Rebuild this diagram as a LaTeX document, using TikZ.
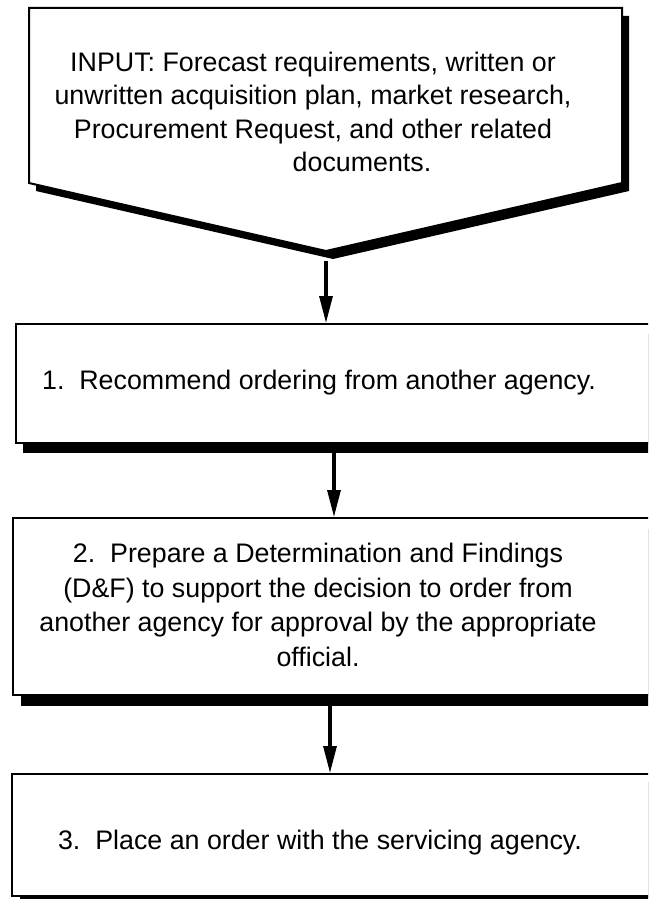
\documentclass[tikz,border=0pt]{standalone}
\usepackage{fontspec}
\setmainfont{Liberation Sans}
\usetikzlibrary{arrows.meta,shadows}
\begin{document}
\begin{tikzpicture}[x=1pt,y=-1pt,
  boxline/.style={draw=black,line width=2pt,fill=white},
  stepbox/.style={boxline,rectangle,inner sep=0pt,anchor=north west},
  txt/.style={font=\fontsize{26.8}{34}\selectfont,align=center,inner sep=0pt,text=black},
  flow/.style={line width=3.1pt,-{Triangle[length=27pt,width=13pt]}}]
\path[use as bounding box, clip] (0,0) rectangle (648,899);
\fill[white] (0,0) rectangle (648,899);
% input shape
\fill[black,shift={(7,8)}] (29,8) -- (622,8) -- (622,183) -- (326,251) -- (29,183) -- cycle;
\draw[boxline,line join=miter] (29,8) -- (622,8) -- (622,183) -- (326,251) -- (29,183) -- cycle;
\node[txt,font=\fontsize{26.8}{33.5}\selectfont] (inp) at (313,112) {INPUT: Forecast requirements, written or\\unwritten acquisition plan, market research,\\Procurement Request, and other related\\\hspace*{98pt}documents.};
\coordinate (tip) at (326,261);
% boxes
\node[stepbox,minimum width=700pt,minimum height=119pt,
  drop shadow={shadow xshift=7pt,shadow yshift=-10pt,fill=black,opacity=1}] (b1) at (15,323) {};
\node[stepbox,minimum width=700pt,minimum height=177pt,
  drop shadow={shadow xshift=8pt,shadow yshift=-11pt,fill=black,opacity=1}] (b2) at (12,517) {};
\node[stepbox,minimum width=700pt,minimum height=122pt,
  drop shadow={shadow xshift=8pt,shadow yshift=-8pt,fill=black,opacity=1}] (b3) at (11,773) {};
\node[txt] (t1) at (319,383) {1.~~Recommend ordering from another agency.};
\node[txt,font=\fontsize{26.8}{34.5}\selectfont] (t2) at (318,605) {2.~~Prepare a Determination and Findings\\(D\&F) to support the decision to order from\\another agency for approval by the appropriate\\official.};
\node[txt] (t3) at (320,843) {3.~~Place an order with the servicing agency.};
% connectors
\coordinate (s1) at (334,452);
\coordinate (s2) at (330,705);
\draw[flow] (tip) -- (tip |- b1.north);
\draw[flow] (s1) -- (s1 |- b2.north);
\draw[flow] (s2) -- (s2 |- b3.north);
\end{tikzpicture}
\end{document}
